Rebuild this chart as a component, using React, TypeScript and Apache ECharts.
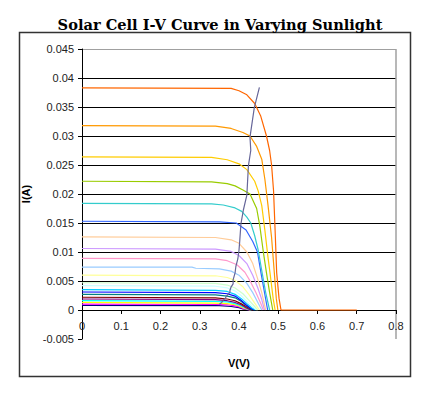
import React, { useEffect, useRef } from "react";
import * as echarts from "echarts";

const TITLE = "Solar Cell I-V Curve in Varying Sunlight";
const X_NAME = "V(V)";
const Y_NAME = "I(A)";

// Excel default series colours, series 1..22 (lowest to highest current) and the max-power locus
const curveColors = [
  "#000080", "#FF00FF", "#FFFF00", "#00FFFF", "#800080", "#800000", "#008080", "#0000FF",
  "#00CCFF", "#CCFFFF", "#CCFFCC", "#FFFF99", "#99CCFF", "#FF99CC", "#CC99FF", "#FFCC99",
  "#3366FF", "#33CCCC", "#99CC00", "#FFCC00", "#FF9900", "#FF6600",
];
const locusColor = "#666699";

// I-V curves: [V, I] points
const c01 = [[0, 0.0008], [0.35, 0.00075], [0.38, 0.0006], [0.4, 0.0004], [0.41, 0.0002], [0.425, 0]];
const c02 = [[0, 0.001], [0.34, 0.00095], [0.37, 0.0009], [0.39, 0.0007], [0.403, 0.0005], [0.413, 0.0002], [0.428, 0]];
const c03 = [[0, 0.0013], [0.34, 0.0012], [0.37, 0.0011], [0.39, 0.0009], [0.403, 0.0006], [0.413, 0.0003], [0.423, 0.0001], [0.43, 0]];
const c04 = [[0, 0.0016], [0.34, 0.0015], [0.37, 0.0014], [0.39, 0.0011], [0.403, 0.0008], [0.415, 0.0004], [0.425, 0.0001], [0.432, 0]];
const c05 = [[0, 0.0019], [0.34, 0.0018], [0.37, 0.0016], [0.39, 0.0013], [0.405, 0.0009], [0.415, 0.0005], [0.427, 0.0001], [0.434, 0]];
const c06 = [[0, 0.0022], [0.34, 0.0021], [0.37, 0.0019], [0.39, 0.0016], [0.405, 0.0011], [0.418, 0.0006], [0.428, 0.0002], [0.436, 0]];
const c07 = [[0, 0.0027], [0.34, 0.0026], [0.37, 0.0024], [0.39, 0.0021], [0.405, 0.0015], [0.418, 0.0008], [0.43, 0.0002], [0.438, 0]];
const c08 = [[0, 0.0031], [0.34, 0.003], [0.37, 0.0028], [0.39, 0.0024], [0.405, 0.0017], [0.418, 0.0009], [0.43, 0.0003], [0.44, 0]];
const c09 = [[0, 0.0035], [0.34, 0.0034], [0.37, 0.0032], [0.39, 0.0027], [0.405, 0.002], [0.42, 0.0011], [0.432, 0.0004], [0.442, 0]];
const c10 = [[0, 0.0042], [0.34, 0.0041], [0.37, 0.0038], [0.39, 0.0033], [0.405, 0.0025], [0.42, 0.0015], [0.435, 0.0005], [0.445, 0]];
const c11 = [[0, 0.0047], [0.34, 0.0046], [0.37, 0.0043], [0.39, 0.0038], [0.41, 0.0028], [0.425, 0.0017], [0.44, 0.0006], [0.448, 0]];
const c12 = [[0, 0.006], [0.34, 0.0059], [0.37, 0.0056], [0.39, 0.0051], [0.41, 0.004], [0.425, 0.0027], [0.44, 0.0012], [0.452, 0]];
const c13 = [[0, 0.0074], [0.28, 0.0074], [0.29, 0.0072], [0.35, 0.0071], [0.38, 0.0067], [0.4, 0.006], [0.42, 0.0046], [0.435, 0.003], [0.448, 0.0013], [0.458, 0]];
const c14 = [[0, 0.0089], [0.34, 0.0088], [0.37, 0.0085], [0.395, 0.0078], [0.415, 0.0065], [0.43, 0.0048], [0.443, 0.003], [0.455, 0.0012], [0.462, 0]];
const c15 = [[0, 0.0106], [0.34, 0.0105], [0.38, 0.0101], [0.4, 0.0094], [0.42, 0.008], [0.435, 0.006], [0.448, 0.0038], [0.458, 0.0018], [0.465, 0]];
const c16 = [[0, 0.0126], [0.34, 0.0125], [0.38, 0.0121], [0.4, 0.0115], [0.42, 0.01], [0.435, 0.008], [0.447, 0.0055], [0.458, 0.003], [0.468, 0]];
const c17 = [[0, 0.0153], [0.35, 0.0152], [0.393, 0.015], [0.418, 0.0138], [0.435, 0.0118], [0.447, 0.01], [0.456, 0.0064], [0.465, 0.003], [0.473, 0]];
const c18 = [[0, 0.0184], [0.33, 0.0183], [0.36, 0.0181], [0.39, 0.0176], [0.407, 0.017], [0.42, 0.016], [0.43, 0.015], [0.44, 0.0128], [0.449, 0.0103], [0.459, 0.0064], [0.468, 0.003], [0.478, 0]];
const c19 = [[0, 0.0222], [0.33, 0.0221], [0.37, 0.0218], [0.39, 0.0214], [0.41, 0.0207], [0.428, 0.02], [0.445, 0.0175], [0.453, 0.0145], [0.462, 0.01], [0.47, 0.0064], [0.478, 0.003], [0.486, 0]];
const c20 = [[0, 0.0264], [0.33, 0.0263], [0.37, 0.0259], [0.4, 0.0252], [0.42, 0.0242], [0.44, 0.0222], [0.449, 0.0205], [0.458, 0.018], [0.466, 0.0137], [0.474, 0.009], [0.479, 0.0064], [0.487, 0.002], [0.492, 0]];
const c21 = [[0, 0.0318], [0.34, 0.0317], [0.38, 0.0313], [0.41, 0.0306], [0.428, 0.03], [0.445, 0.0282], [0.458, 0.026], [0.466, 0.0225], [0.474, 0.018], [0.483, 0.0125], [0.49, 0.0064], [0.495, 0.002], [0.499, 0]];
const c22 = [[0, 0.0383], [0.38, 0.0382], [0.4, 0.0378], [0.42, 0.0371], [0.44, 0.0356], [0.455, 0.0335], [0.47, 0.03], [0.478, 0.0275], [0.483, 0.025], [0.488, 0.0206], [0.492, 0.0137], [0.496, 0.0064], [0.502, 0.002], [0.507, 0], [0.7, 0]];
const curves = [c01, c02, c03, c04, c05, c06, c07, c08, c09, c10, c11, c12, c13, c14, c15, c16, c17, c18, c19, c20, c21, c22];

// maximum-power-point locus
const locus = [
  [0.35, 0.001], [0.356, 0.0013], [0.36, 0.0017], [0.365, 0.002], [0.368, 0.0024], [0.372, 0.0027],
  [0.377, 0.0031], [0.377, 0.0034], [0.38, 0.004], [0.385, 0.0045], [0.385, 0.0052], [0.39, 0.0064],
  [0.392, 0.0075], [0.397, 0.0088], [0.4, 0.0103], [0.402, 0.012], [0.405, 0.0149], [0.411, 0.0172],
  [0.42, 0.0198], [0.424, 0.0249], [0.43, 0.0275], [0.428, 0.0298], [0.439, 0.0349], [0.452, 0.0384],
];

const X_MIN = 0, X_MAX = 0.8, X_STEP = 0.1;
const Y_MIN = -0.005, Y_MAX = 0.045, Y_STEP = 0.005;

const GRID_TOP = 49;
const GRID_BOTTOM = 63;
const CHART_H = 402;

export default function App() {
  const ref = useRef<HTMLDivElement>(null);
  useEffect(() => {
    if (!ref.current) return;
    const chart = echarts.init(ref.current, undefined, { renderer: "svg" });
    const fmt = (v: number) => String(+v.toFixed(3));
    // place the x axis where y = 0 (offset inward from the grid bottom)
    const plotH = CHART_H - GRID_TOP - GRID_BOTTOM;
    const zeroOffset = -((0 - Y_MIN) / (Y_MAX - Y_MIN)) * plotH;
    const series: any[] = curves.map((d, i) => ({
      type: "line",
      data: d,
      showSymbol: false,
      symbol: "none",
      lineStyle: { width: 1.2, color: curveColors[i] },
      itemStyle: { color: curveColors[i] },
      z: 3 + i,
    }));
    series.push({
      type: "line",
      data: locus,
      showSymbol: false,
      symbol: "none",
      lineStyle: { width: 1.2, color: locusColor },
      z: 40,
    });
    chart.setOption({
      animation: false,
      title: {
        text: TITLE,
        left: 215,
        textAlign: "center",
        top: 12,
        textStyle: { fontFamily: "DejaVu Serif", fontWeight: "bold", fontSize: 14.6, color: "#000" },
      },
      grid: { left: 82, right: 44, top: GRID_TOP, bottom: GRID_BOTTOM, containLabel: false },
      xAxis: {
        type: "value",
        min: X_MIN,
        max: X_MAX,
        interval: X_STEP,
        offset: zeroOffset,
        name: X_NAME,
        nameLocation: "middle",
        nameGap: 47,
        nameTextStyle: { fontFamily: "Liberation Sans", fontWeight: "bold", fontSize: 11, color: "#000" },
        axisLine: { onZero: false, lineStyle: { color: "#000", width: 1 } },
        axisTick: { show: true, length: 4, inside: false, lineStyle: { color: "#000" } },
        axisLabel: { formatter: fmt, margin: 10, fontFamily: "Liberation Sans", fontSize: 11, color: "#222" },
        splitLine: {
          show: true,
          lineStyle: { color: ["transparent", "transparent", "transparent", "transparent", "transparent", "transparent", "transparent", "transparent", "#a0a0a0"], width: 1.5 },
        },
      },
      yAxis: {
        type: "value",
        min: Y_MIN,
        max: Y_MAX,
        interval: Y_STEP,
        name: Y_NAME,
        nameLocation: "middle",
        nameGap: 46,
        nameRotate: 90,
        nameTextStyle: { fontFamily: "Liberation Sans", fontWeight: "bold", fontSize: 11, color: "#000" },
        axisLine: { show: true, onZero: false, lineStyle: { color: "#000", width: 1 } },
        axisTick: { show: true, length: 4, lineStyle: { color: "#000" } },
        axisLabel: { formatter: fmt, margin: 8, fontFamily: "Liberation Sans", fontSize: 11, color: "#222" },
        splitLine: {
          show: true,
          lineStyle: {
            color: ["transparent", "#000", "#000", "#000", "#000", "#000", "#000", "#000", "#000", "#000", "#a0a0a0"],
            width: 1,
          },
        },
      },
      graphic: [
        {
          type: "rect",
          shape: { x: 19.5, y: 32.5, width: 391, height: 344 },
          style: { fill: "none", stroke: "#333", lineWidth: 1.5 },
          silent: true,
        },
      ],
      series,
    });
    return () => chart.dispose();
  }, []);
  return (
    <div
      ref={ref}
      style={{ position: "absolute", left: 0, top: 0, width: 440, height: 402, background: "#fff" }}
    />
  );
}
